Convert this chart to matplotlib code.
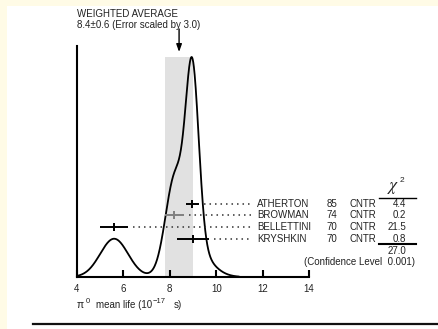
import numpy as np
import matplotlib
matplotlib.use("Agg")
import matplotlib.pyplot as plt
from matplotlib.patches import Rectangle
from matplotlib.lines import Line2D

plt.rcParams['font.family'] = ['Liberation Sans', 'DejaVu Sans']

# Measurements of the pi0 mean life (units of 1e-17 s)
names = ["ATHERTON", "BROWMAN", "BELLETTINI", "KRYSHKIN"]
years = ["85", "74", "70", "70"]
techniques = ["CNTR", "CNTR", "CNTR", "CNTR"]
values = [8.97, 8.2, 5.6, 9.0]
errors = [0.28, 0.4, 0.6, 0.68]
chi2 = ["4.4", "0.2", "21.5", "0.8"]
chi2_total = "27.0"
conf_level = "0.001"
avg_value = 8.4
avg_error = 0.6
err_scale = 3.0
xticks = [4, 6, 8, 10, 12, 14]

W, H = 438, 329
fig = plt.figure(figsize=(W / 100, H / 100), dpi=100)
fig.patch.set_facecolor('white')

def fx(px):
    return px / W

def fy(py):
    return 1 - py / H

# cream frame on the top and left edges
cream = '#fffbe6'
fig.patches.append(Rectangle((0, 0), fx(7), 1, transform=fig.transFigure,
                             facecolor=cream, edgecolor='none', zorder=0))
fig.patches.append(Rectangle((0, fy(6)), 1, 1 - fy(6), transform=fig.transFigure,
                             facecolor=cream, edgecolor='none', zorder=0))

ax = fig.add_axes([fx(77), fy(277), fx(232), 231 / H])
ax.set_facecolor('none')

# ideogram: each measurement contributes a Gaussian of width = error,
# area proportional to 1/error
x = np.linspace(4, 11, 800)
v = np.array(values)
e = np.array(errors)
ideo = np.zeros_like(x)
for vi, ei in zip(v, e):
    ideo += np.exp(-0.5 * ((x - vi) / ei) ** 2) / ei ** 2
ideo /= ideo.max()

ax.set_xlim(4, 14)
ax.set_ylim(0, 231 / 220)

ax.fill_between([avg_value - avg_error, avg_value + avg_error], 0, 1.0,
                color='#e1e1e1', lw=0, zorder=1)
ax.plot(x, ideo, color='black', lw=1.3, zorder=3, solid_capstyle='butt')

# measurement crosses with dotted leaders to the table
row_px = [204, 215, 227, 239]
row_y = [(277 - p) / 220 for p in row_px]
cross_colors = ['black', '#808080', 'black', 'black']
for vi, ei, yi, c in zip(values, errors, row_y, cross_colors):
    ax.plot([vi - ei, vi + ei], [yi, yi], color=c, lw=1.4, zorder=4,
            solid_capstyle='butt', clip_on=False)
    ax.plot([vi], [yi], marker='|', ms=6, mew=1.4, color=c, zorder=4, clip_on=False)
    ax.plot([vi + ei + 0.22, 11.5], [yi, yi], color='#333333', lw=1.1,
            linestyle=(0, (1, 2.6)), zorder=4, clip_on=False)

# arrow marking the weighted average
ax.annotate('', xy=(avg_value, (277 - 52) / 220), xytext=(avg_value, (277 - 29) / 220),
            annotation_clip=False,
            arrowprops=dict(arrowstyle='-|>,head_length=0.45,head_width=0.16',
                            lw=1.0, color='black', shrinkA=0, shrinkB=0))

for s in ['top', 'right']:
    ax.spines[s].set_visible(False)
ax.spines['left'].set_linewidth(1.5)
ax.spines['bottom'].set_linewidth(1.5)
ax.set_yticks([])
ax.set_xticks(xticks)
ax.set_xticklabels([str(t) for t in xticks])
ax.tick_params(axis='x', direction='in', length=5, width=1.5, pad=5,
               labelsize=7, labelcolor='#222222')

tc = '#222222'
fs = 7
fig.text(fx(77), fy(14), "WEIGHTED AVERAGE", fontsize=fs, color=tc, va='center', ha='left')
fig.text(fx(77), fy(24.5),
         f"{avg_value}\u00b1{avg_error} (Error scaled by {err_scale})",
         fontsize=fs, color=tc, va='center', ha='left')

for n, yr, t, c2, p in zip(names, years, techniques, chi2, row_px):
    fig.text(fx(257), fy(p), n, fontsize=fs, color=tc, va='center', ha='left')
    fig.text(fx(337.5), fy(p), yr, fontsize=fs, color=tc, va='center', ha='right')
    fig.text(fx(349), fy(p), t, fontsize=fs, color=tc, va='center', ha='left')
    fig.text(fx(406), fy(p), c2, fontsize=fs, color=tc, va='center', ha='right')

# chi-squared column header
fig.text(fx(393), fy(188.5), r'$\chi$', fontsize=12.5, color=tc, va='center', ha='center',
         math_fontfamily='stix')
fig.text(fx(401.5), fy(180), '2', fontsize=6, color=tc, va='center', ha='center')
fig.lines.append(Line2D([fx(379), fx(416)], [fy(198), fy(198)], transform=fig.transFigure,
                        color='black', lw=1.0))
fig.lines.append(Line2D([fx(379), fx(416)], [fy(243.5), fy(243.5)], transform=fig.transFigure,
                        color='black', lw=1.5))
fig.text(fx(406), fy(251), chi2_total, fontsize=fs, color=tc, va='center', ha='right')
fig.text(fx(415), fy(262), f"(Confidence Level  {conf_level})", fontsize=fs, color=tc,
         va='center', ha='right')

# axis title: pi0 mean life (10^-17 s)
base = fy(308)
sup = fy(303)
fig.text(fx(77), base, '\u03c0', fontsize=7.5, color=tc, va='baseline', ha='left')
fig.text(fx(86), sup, '0', fontsize=5.5, color=tc, va='baseline', ha='left')
fig.text(fx(96), base, 'mean life (10', fontsize=fs, color=tc, va='baseline', ha='left')
fig.text(fx(153), sup, '\u221217', fontsize=5.5, color=tc, va='baseline', ha='left')
fig.text(fx(174), base, 's)', fontsize=fs, color=tc, va='baseline', ha='left')

fig.lines.append(Line2D([fx(33), 1], [fy(323.5), fy(323.5)], transform=fig.transFigure,
                        color='#111111', lw=1.6))

fig.savefig('out.png', dpi=100, facecolor='white')
